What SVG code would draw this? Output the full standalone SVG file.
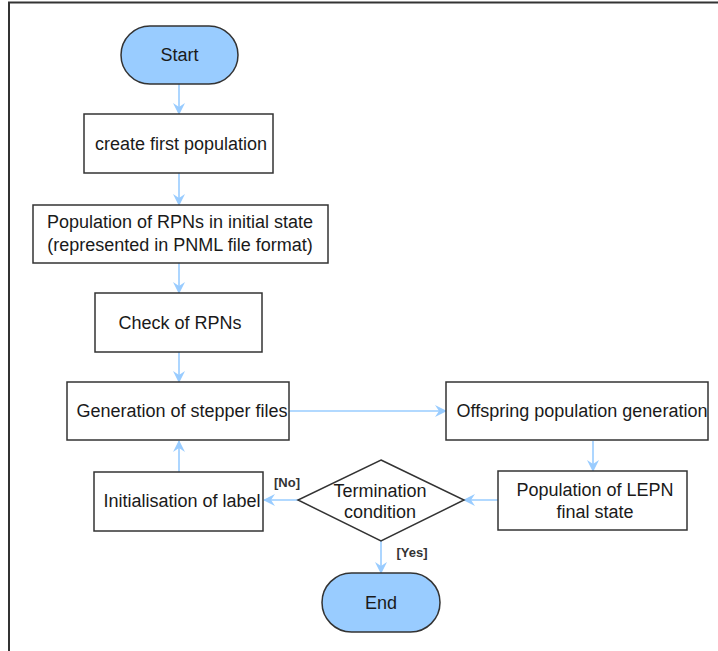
<svg xmlns="http://www.w3.org/2000/svg" width="718" height="651" viewBox="0 0 718 651">
<style>
.bg{fill:#ffffff}
.frame{stroke:#333333;stroke-width:2;fill:none}
.box{fill:#ffffff;stroke:#333333;stroke-width:1.5}
.term{fill:#99ccff;stroke:#333333;stroke-width:1.5}
.t{font-family:"Liberation Sans",Arial,sans-serif;font-size:18px;fill:#1a1a1a;text-anchor:middle}
.lbl{font-family:"Liberation Sans",Arial,sans-serif;font-size:13px;font-weight:bold;fill:#333333;text-anchor:middle}
.c{stroke:#99ccff;stroke-width:1.6;fill:none;marker-end:url(#ah)}
</style>
<defs>
<marker id="ah" viewBox="0 0 12 12" refX="11" refY="6" markerWidth="12" markerHeight="12" markerUnits="userSpaceOnUse" orient="auto">
<path d="M0,0 L12,6 L0,12 L4,6 z" fill="#99ccff"/>
</marker>
</defs>
<rect class="bg" x="0" y="0" width="718" height="651"/>
<path class="frame" d="M9,651 V2.5 H718"/>
<g id="connectors">
<path class="c" d="M179,84 V114"/>
<path class="c" d="M179,173 V205"/>
<path class="c" d="M179,263 V293"/>
<path class="c" d="M179,352 V382"/>
<path class="c" d="M289,411 H446"/>
<path class="c" d="M593,441 V471"/>
<path class="c" d="M498,500 H464"/>
<path class="c" d="M298,500 H264"/>
<path class="c" d="M179,472 V441"/>
<path class="c" d="M381,541 V573"/>
<text class="lbl" x="287" y="487">[No]</text>
<text class="lbl" x="412" y="557">[Yes]</text>
</g>
<g id="start">
<rect class="term" x="121" y="26" width="117" height="58" rx="29" ry="29"/>
<text class="t" x="179.5" y="61">Start</text>
</g>
<g id="create">
<rect class="box" x="84" y="114" width="189" height="59"/>
<text class="t" x="181" y="150">create first population</text>
</g>
<g id="initial">
<rect class="box" x="33" y="205" width="295" height="58"/>
<text class="t" x="180" y="228">Population of RPNs in initial state</text>
<text class="t" x="180" y="251">(represented in PNML file format)</text>
</g>
<g id="check">
<rect class="box" x="95" y="293" width="167" height="59"/>
<text class="t" x="180" y="329">Check of RPNs</text>
</g>
<g id="generation">
<rect class="box" x="67" y="382" width="222" height="58"/>
<text class="t" x="182" y="417">Generation of stepper files</text>
</g>
<g id="offspring">
<rect class="box" x="446" y="382" width="262" height="58"/>
<text class="t" x="582" y="417">Offspring population generation</text>
</g>
<g id="lepn">
<rect class="box" x="498" y="471" width="189" height="59"/>
<text class="t" x="595" y="496">Population of LEPN</text>
<text class="t" x="595" y="518">final state</text>
</g>
<g id="decision">
<polygon class="box" points="381,460 464,500 381,541 298,500"/>
<text class="t" x="380" y="497">Termination</text>
<text class="t" x="380" y="518">condition</text>
</g>
<g id="init-label">
<rect class="box" x="94" y="472" width="169" height="59"/>
<text class="t" x="182" y="507">Initialisation of label</text>
</g>
<g id="end">
<rect class="term" x="322" y="573" width="118" height="59" rx="29.5" ry="29.5"/>
<text class="t" x="381" y="609">End</text>
</g>
</svg>
